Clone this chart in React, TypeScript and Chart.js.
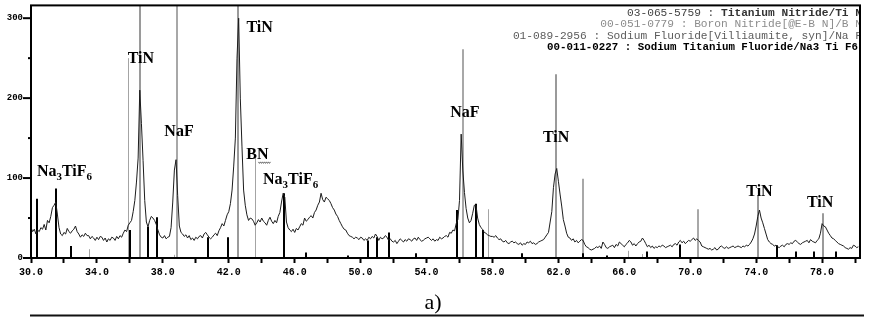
import React, { useEffect, useRef } from "react";
import { Chart, registerables } from "chart.js";

Chart.register(...registerables);

const START_2THETA = 30.0;
const STEP_2THETA = 0.1;
const counts: number[] = [
  // 30
  38, 33, 36, 30, 35, 33, 38, 36, 42, 35,
  // 31
  47, 44, 52, 63, 66, 70, 55, 38, 30, 28,
  // 32
  32, 30, 37, 33, 31, 34, 36, 40, 33, 30,
  // 33
  26, 29, 27, 31, 28, 28, 24, 27, 25, 22,
  // 34
  26, 23, 27, 26, 22, 25, 20, 24, 22, 26,
  // 35
  25, 22, 27, 24, 28, 26, 31, 35, 33, 41,
  // 36
  44, 47, 58, 72, 95, 125, 210, 168, 122, 72,
  // 37
  45, 39, 47, 52, 50, 47, 42, 35, 29, 26,
  // 38
  25, 28, 24, 26, 27, 38, 70, 110, 123, 78,
  // 39
  40, 32, 30, 27, 29, 25, 28, 23, 25, 22,
  // 40
  26, 24, 27, 28, 25, 30, 32, 29, 26, 24,
  // 41
  26, 29, 31, 28, 34, 38, 43, 40, 47, 54,
  // 42
  58, 68, 85, 115, 150, 250, 300, 200, 140, 85,
  // 43
  66, 54, 47, 50, 49, 46, 41, 44, 48, 45,
  // 44
  50, 46, 44, 41, 47, 51, 46, 43, 47, 44,
  // 45
  52, 57, 70, 81, 76, 45, 38, 35, 33, 36,
  // 46
  32, 37, 35, 39, 43, 41, 50, 46, 48, 51,
  // 47
  53, 50, 57, 60, 66, 70, 81, 73, 70, 76,
  // 48
  74, 72, 68, 63, 60, 55, 52, 47, 43, 39,
  // 49
  36, 35, 31, 28, 27, 26, 24, 26, 25, 23,
  // 50
  26, 25, 22, 24, 22, 26, 24, 27, 25, 30,
  // 51
  27, 22, 26, 24, 25, 28, 26, 22, 24, 21,
  // 52
  20, 22, 18, 21, 24, 22, 20, 23, 21, 24,
  // 53
  23, 21, 24, 25, 22, 26, 23, 21, 22, 24,
  // 54
  25, 26, 24, 22, 24, 21, 23, 22, 26, 24,
  // 55
  25, 27, 28, 26, 32, 31, 35, 34, 43, 48,
  // 56
  72, 155, 110, 82, 62, 50, 44, 47, 56, 66,
  // 57
  66, 50, 42, 38, 36, 32, 31, 29, 28, 27,
  // 58
  27, 26, 28, 25, 23, 24, 21, 20, 22, 19,
  // 59
  18, 20, 21, 19, 20, 18, 17, 19, 16, 18,
  // 60
  17, 20, 19, 21, 18, 19, 17, 18, 20, 21,
  // 61
  22, 23, 26, 29, 32, 45, 58, 88, 105, 112,
  // 62
  96, 80, 65, 48, 40, 31, 26, 25, 22, 24,
  // 63
  20, 22, 19, 21, 23, 22, 17, 14, 13, 11,
  // 64
  10, 11, 12, 14, 13, 15, 12, 20, 17, 13,
  // 65
  12, 14, 15, 16, 13, 17, 15, 20, 18, 16,
  // 66
  14, 17, 19, 22, 20, 16, 18, 15, 18, 20,
  // 67
  21, 25, 22, 18, 14, 16, 13, 15, 12, 14,
  // 68
  13, 15, 14, 16, 15, 13, 14, 15, 16, 14,
  // 69
  17, 18, 16, 20, 22, 19, 21, 18, 20, 22,
  // 70
  21, 23, 25, 22, 24, 22, 20, 15, 14, 13,
  // 71
  12, 11, 12, 10, 11, 13, 10, 11, 14, 15,
  // 72
  13, 12, 14, 12, 13, 14, 15, 13, 14, 15,
  // 73
  14, 13, 15, 14, 16, 15, 17, 20, 24, 30,
  // 74
  40, 52, 60, 50, 44, 37, 30, 23, 20, 18,
  // 75
  17, 15, 16, 14, 13, 15, 16, 14, 17, 18,
  // 76
  17, 19, 18, 21, 22, 20, 18, 17, 19, 20,
  // 77
  21, 22, 19, 23, 21, 20, 19, 22, 24, 31,
  // 78
  43, 40, 39, 35, 31, 28, 25, 24, 22, 20,
  // 79
  18, 17, 16, 15, 13, 12, 11, 13, 12, 16,
  // 80
  15, 13, 14,
];

// ---- reference patterns: [2θ, relative height in counts] ----
const tinSticks: [number, number][] = [
  [36.62, 400], [42.58, 400], [61.87, 230], [74.1, 78], [78.03, 56],
];
const nafSticks: [number, number][] = [
  [38.85, 400], [56.2, 261], [63.48, 99], [70.5, 61],
];
const bnSticks: [number, number][] = [
  [35.87, 250], [43.6, 125], [57.75, 61], [33.5, 11], [66.2, 9], [38.7, 4], [67.1, 5],
];
const na3tif6Sticks: [number, number][] = [
  [30.36, 74], [31.5, 87], [32.4, 15], [36.0, 35], [37.08, 39], [37.63, 51],
  [40.75, 26], [41.96, 26], [45.37, 81], [46.7, 7], [49.25, 3], [50.43, 22],
  [51.0, 26], [51.74, 32], [53.36, 6], [55.83, 60], [57.0, 68], [57.4, 35],
  [59.77, 6], [63.48, 6], [64.93, 3], [67.4, 8], [69.4, 17], [75.25, 16],
  [76.4, 8], [77.5, 8], [78.85, 8],
];

// ---- axes ----
const X_TICKS = [30, 32, 34, 36, 38, 40, 42, 44, 46, 48, 50, 52, 54, 56, 58, 60, 62, 64, 66, 68, 70, 72, 74, 76, 78, 80];
const X_LABELS = ["30.0", "34.0", "38.0", "42.0", "46.0", "50.0", "54.0", "58.0", "62.0", "66.0", "70.0", "74.0", "78.0"];
const Y_TICKS = [0, 50, 100, 150, 200, 250, 300];
const Y_LABELS = ["0", "100", "200", "300"];

// ---- texts ----
const LEGEND_LINES = [
  "03-065-5759 : Titanium Nitride/Ti N",
  "00-051-0779 : Boron Nitride[@E-B N]/B N",
  "01-089-2956 : Sodium Fluoride[Villiaumite, syn]/Na F",
  "00-011-0227 : Sodium Titanium Fluoride/Na3 Ti F6",
];
// [text, 2θ anchor, count anchor (baseline)]
const PEAK_LABELS: [string, number, number][] = [
  ["TiN", 36.67, 244],
  ["NaF", 38.98, 153],
  ["TiN", 43.87, 283],
  ["BN", 43.74, 124],
  ["NaF", 56.33, 176],
  ["TiN", 61.86, 145],
  ["TiN", 74.2, 77],
  ["TiN", 77.88, 64],
];
const NA3TIF6_LABELS: [number, number][] = [
  [30.36, 103],
  [44.08, 93],
];
const CAPTION = "a)";

const PHASE_STYLES = [
  { sticks: bnSticks, color: "#a4a4a4", width: 1 },
  { sticks: nafSticks, color: "#a8a8a8", width: 2 },
  { sticks: tinSticks, color: "#9a9a9a", width: 2 },
  { sticks: na3tif6Sticks, color: "#000000", width: 2 },
];

const xrdPlugin = {
  id: "xrdExtras",
  beforeDatasetsDraw(chart: any) {
    const { ctx, chartArea, scales } = chart;
    const { left, right, top, bottom } = chartArea;
    const x = scales.x;
    const y = scales.y;
    ctx.save();
    ctx.beginPath();
    ctx.rect(left, top, right - left, bottom - top);
    ctx.clip();
    for (const ph of PHASE_STYLES) {
      ctx.strokeStyle = ph.color;
      ctx.lineWidth = ph.width;
      for (const [t, h] of ph.sticks) {
        const px = Math.round(x.getPixelForValue(t)) + (ph.width % 2 ? 0.5 : 0);
        ctx.beginPath();
        ctx.moveTo(px, y.getPixelForValue(0));
        ctx.lineTo(px, y.getPixelForValue(h));
        ctx.stroke();
      }
    }
    ctx.restore();
  },
  afterDraw(chart: any) {
    const { ctx, chartArea, scales } = chart;
    const { left, right, top, bottom } = chartArea;
    const x = scales.x;
    const y = scales.y;
    ctx.save();

    // frame
    ctx.strokeStyle = "#000";
    ctx.lineWidth = 2;
    ctx.strokeRect(left, top, right - left, bottom - top);

    // y ticks
    for (const v of Y_TICKS) {
      const len = v % 100 === 0 ? 8 : 3;
      const py = y.getPixelForValue(v);
      ctx.beginPath();
      ctx.moveTo(left - len, py);
      ctx.lineTo(left, py);
      ctx.stroke();
    }

    // peak labels
    ctx.fillStyle = "#000";
    ctx.textBaseline = "alphabetic";
    ctx.font = 'bold 16px "Liberation Serif"';
    ctx.textAlign = "center";
    for (const [txt, t, c] of PEAK_LABELS) {
      ctx.fillText(txt, x.getPixelForValue(t), y.getPixelForValue(c));
    }
    // BN squiggle under N
    {
      const bx = x.getPixelForValue(43.74);
      const by = y.getPixelForValue(124) + 3;
      ctx.strokeStyle = "#666";
      ctx.lineWidth = 1;
      ctx.beginPath();
      for (let i = 0; i <= 12; i++) {
        const px = bx + 1 + i;
        const py = by + (i % 2 === 0 ? 0 : 1.5);
        if (i === 0) ctx.moveTo(px, py);
        else ctx.lineTo(px, py);
      }
      ctx.stroke();
    }
    // Na3TiF6 labels with subscripts
    ctx.textAlign = "left";
    for (const [t, c] of NA3TIF6_LABELS) {
      let px = x.getPixelForValue(t);
      const py = y.getPixelForValue(c);
      const parts: [string, boolean][] = [["Na", false], ["3", true], ["TiF", false], ["6", true]];
      for (const [s, sub] of parts) {
        ctx.font = sub ? 'bold 11px "Liberation Serif"' : 'bold 16px "Liberation Serif"';
        ctx.fillText(s, px, sub ? py + 4 : py);
        px += ctx.measureText(s).width;
      }
    }

    // legend lines (clipped to the plot frame)
    ctx.save();
    ctx.beginPath();
    ctx.rect(left, top, right - left - 1, bottom - top);
    ctx.clip();
    ctx.textBaseline = "middle";
    ctx.textAlign = "right";
    const ly = [13.5, 24.5, 35.8, 46.8];
    const endX = 862;
    const l1 = LEGEND_LINES[0];
    const l1a = l1.slice(0, 14);
    const l1b = l1.slice(14);
    ctx.font = 'bold 11.2px "Liberation Mono"';
    const wB = ctx.measureText(l1b).width;
    ctx.fillStyle = "#333";
    ctx.fillText(l1b, endX, ly[0]);
    ctx.font = '11.2px "Liberation Mono"';
    ctx.fillStyle = "#444";
    ctx.fillText(l1a, endX - wB, ly[0]);
    ctx.fillStyle = "#8c8c8c";
    ctx.fillText(LEGEND_LINES[1], endX, ly[1]);
    ctx.fillStyle = "#5c5c5c";
    ctx.fillText(LEGEND_LINES[2], endX, ly[2]);
    ctx.font = 'bold 10.8px "Liberation Mono"';
    ctx.fillStyle = "#000";
    ctx.fillText(LEGEND_LINES[3], 858, ly[3]);
    ctx.restore();

    // caption and bottom rule
    ctx.fillStyle = "#000";
    ctx.font = '22px "Liberation Serif"';
    ctx.textAlign = "center";
    ctx.textBaseline = "alphabetic";
    ctx.fillText(CAPTION, 433, 309);
    ctx.strokeStyle = "#111";
    ctx.lineWidth = 2;
    ctx.beginPath();
    ctx.moveTo(30, 315.5);
    ctx.lineTo(864, 315.5);
    ctx.stroke();

    ctx.restore();
  },
};

export default function App() {
  const ref = useRef<HTMLCanvasElement | null>(null);
  useEffect(() => {
    if (!ref.current) return;
    const points = counts.map((c, i) => ({ x: START_2THETA + i * STEP_2THETA, y: c }));
    const chart = new Chart(ref.current, {
      type: "line",
      data: {
        datasets: [
          {
            data: points,
            borderColor: "#1c1c1c",
            borderWidth: 1,
            pointRadius: 0,
            tension: 0,
            fill: false,
          },
        ],
      },
      options: {
        animation: false,
        responsive: false,
        maintainAspectRatio: false,
        layout: { padding: { top: 3, right: 10, left: 0, bottom: 0 } },
        plugins: { legend: { display: false }, tooltip: { enabled: false } },
        scales: {
          x: {
            type: "linear",
            min: 30,
            max: 80.3,
            afterBuildTicks: (s: any) => {
              s.ticks = X_TICKS.map((v) => ({ value: v }));
            },
            afterFit: (s: any) => {
              s.height = 61;
            },
            border: { display: false },
            grid: {
              drawOnChartArea: false,
              drawTicks: true,
              tickLength: 5,
              tickWidth: 2,
              tickColor: "#000",
            },
            ticks: {
              autoSkip: false,
              maxRotation: 0,
              padding: 3,
              color: "#000",
              font: { family: "Liberation Mono", size: 10, weight: "bold" },
              callback: (v: any) => {
                const s = Number(v).toFixed(1);
                return X_LABELS.includes(s) ? s : "";
              },
            },
          },
          y: {
            min: 0,
            max: 316,
            afterBuildTicks: (s: any) => {
              s.ticks = Y_TICKS.map((v) => ({ value: v }));
            },
            afterFit: (s: any) => {
              s.width = 31;
            },
            border: { display: false },
            grid: {
              drawOnChartArea: false,
              drawTicks: true,
              tickLength: 8,
              tickColor: "rgba(0,0,0,0)",
            },
            ticks: {
              padding: 0,
              color: "#000",
              font: { family: "Liberation Mono", size: 9, weight: "bold" },
              callback: (v: any) => {
                const s = String(v);
                return Y_LABELS.includes(s) ? s : "";
              },
            },
          },
        },
      },
      plugins: [xrdPlugin],
    } as any);
    return () => chart.destroy();
  }, []);
  return (
    <div style={{ position: "fixed", left: 0, top: 0, width: 870, height: 319, background: "#fff" }}>
      <canvas ref={ref} width={870} height={319} style={{ display: "block" }} />
    </div>
  );
}
